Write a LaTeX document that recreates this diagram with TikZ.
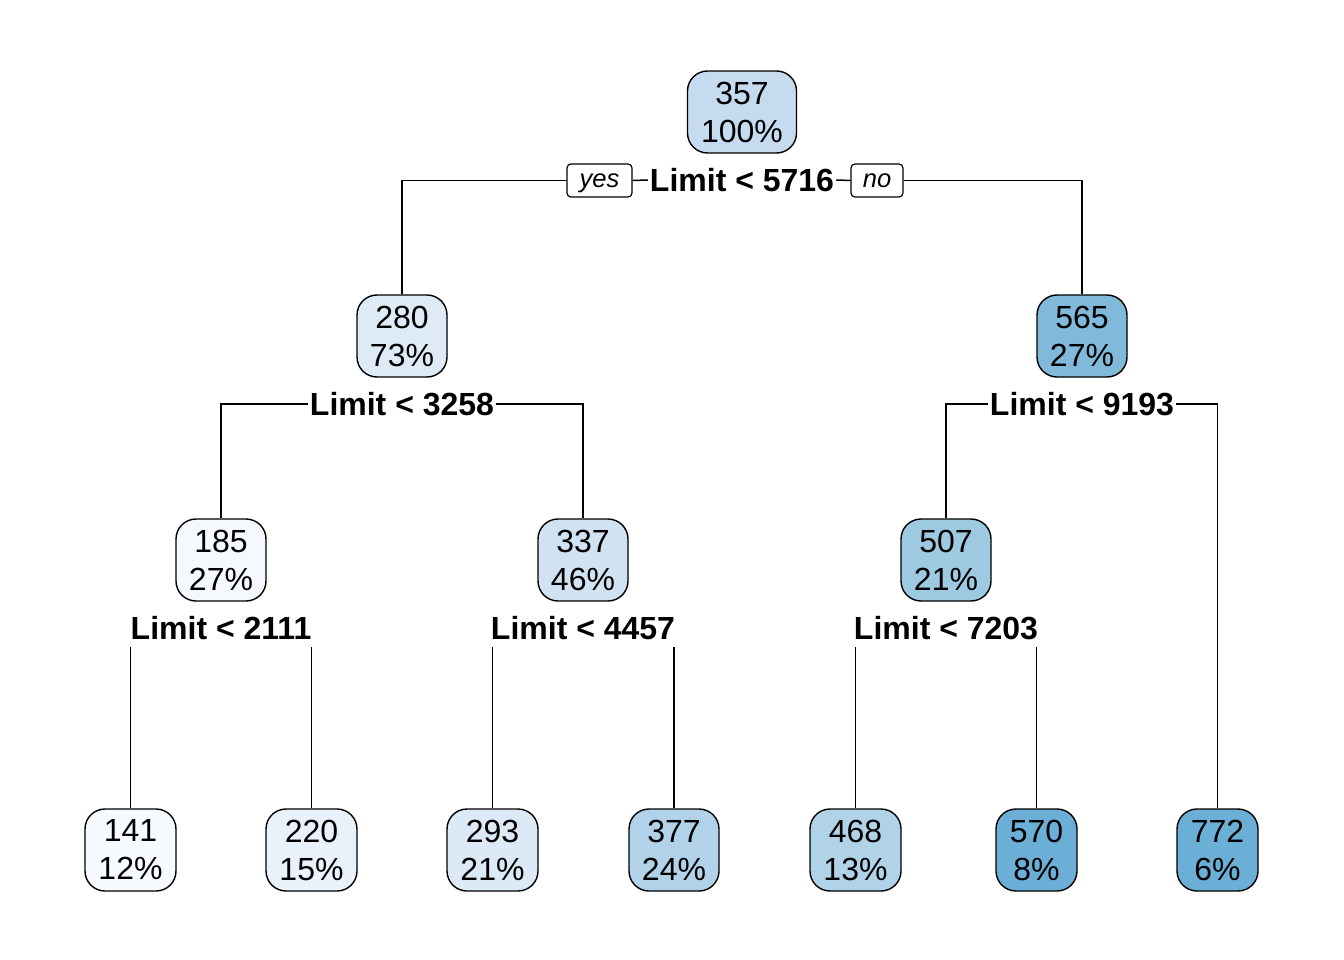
\documentclass[tikz,border=0pt]{standalone}
\usepackage{fontspec}
\setmainfont{Liberation Sans}
\definecolor{c357}{HTML}{C6DBEF}
\definecolor{c280}{HTML}{DEEBF7}
\definecolor{c565}{HTML}{80B9DA}
\definecolor{c185}{HTML}{F5F9FE}
\definecolor{c337}{HTML}{D1E2F2}
\definecolor{c507}{HTML}{9ECAE1}
\definecolor{c141}{HTML}{F7FBFF}
\definecolor{c220}{HTML}{E9F2FA}
\definecolor{c293}{HTML}{DCE9F6}
\definecolor{c377}{HTML}{B1D2E8}
\definecolor{c468}{HTML}{B1D3E8}
\definecolor{c570}{HTML}{6BAED6}
\definecolor{c772}{HTML}{6BAED6}
\tikzset{
  tnode/.style={draw=black, line width=1.4pt, rounded corners=20pt, inner sep=0pt,
    minimum width=90pt, minimum height=82pt, align=center,
    font=\fontsize{32}{38}\selectfont},
  split/.style={inner xsep=2pt, inner ysep=0pt, font=\fontsize{32}{38}\selectfont\bfseries, fill=white},
  yesno/.style={draw=black, line width=1.2pt, rounded corners=4pt, inner sep=0pt,
    text height=13.3pt, text depth=0pt,
    minimum height=33pt, fill=white, font=\fontsize{25.6}{30}\selectfont\itshape},
  edge/.style={line width=1.5pt}
}
\begin{document}
\begin{tikzpicture}[x=1pt,y=-1pt]
\path[use as bounding box, fill=white] (0,0) rectangle (1344,960);
% nodes
\node[tnode, fill=c357, minimum width=109pt] (n357) at (742,112) {357\\100\%};
\node[tnode, fill=c280] (n280) at (402,336) {280\\73\%};
\node[tnode, fill=c565] (n565) at (1082,336) {565\\27\%};
\node[tnode, fill=c185] (n185) at (221,560) {185\\27\%};
\node[tnode, fill=c337] (n337) at (583,560) {337\\46\%};
\node[tnode, fill=c507] (n507) at (946,560) {507\\21\%};
\node[tnode, fill=c141, minimum width=91pt] (n141) at (130.5,850) {141\\12\%};
\node[tnode, fill=c220, minimum width=91pt] (n220) at (311.5,850) {220\\15\%};
\node[tnode, fill=c293, minimum width=91pt] (n293) at (492.5,850) {293\\21\%};
\node[tnode, fill=c377] (n377) at (674,850) {377\\24\%};
\node[tnode, fill=c468, minimum width=91pt] (n468) at (855.5,850) {468\\13\%};
\node[tnode, fill=c570, minimum width=81pt] (n570) at (1036.5,850) {570\\8\%};
\node[tnode, fill=c772, minimum width=81pt] (n772) at (1217.5,850) {772\\6\%};
% split labels
\node[split] (s1) at (742,180) {Limit < 5716};
\node[yesno, minimum width=65pt] (yes) at (599.5,180.5) {yes};
\node[yesno, minimum width=52pt] (no) at (877,180.5) {no};
\node[split] (s2) at (402,404) {Limit < 3258};
\node[split] (s3) at (1082,404) {Limit < 9193};
\node[split] (s4) at (221,628) {Limit < 2111};
\node[split] (s5) at (583,628) {Limit < 4457};
\node[split] (s6) at (946,628) {Limit < 7203};
% free ends under the lower split labels
\coordinate (a141) at (130.5,647);
\coordinate (a220) at (311.5,647);
\coordinate (a293) at (492.5,647);
\coordinate (a377) at (674,647);
\coordinate (a468) at (855.5,647);
\coordinate (a570) at (1036.5,647);
% connectors
\draw[edge] (s1.west) -- (yes.east);
\draw[edge] (yes.west) -| (n280.north);
\draw[edge] (s1.east) -- (no.west);
\draw[edge] (no.east) -| (n565.north);
\draw[edge] (s2.west) -| (n185.north);
\draw[edge] (s2.east) -| (n337.north);
\draw[edge] (s3.west) -| (n507.north);
\draw[edge] (s3.east) -| (n772.north);
\draw[edge] (a141) -- (n141.north);
\draw[edge] (a220) -- (n220.north);
\draw[edge] (a293) -- (n293.north);
\draw[edge] (a377) -- (n377.north);
\draw[edge] (a468) -- (n468.north);
\draw[edge] (a570) -- (n570.north);
\end{tikzpicture}
\end{document}
